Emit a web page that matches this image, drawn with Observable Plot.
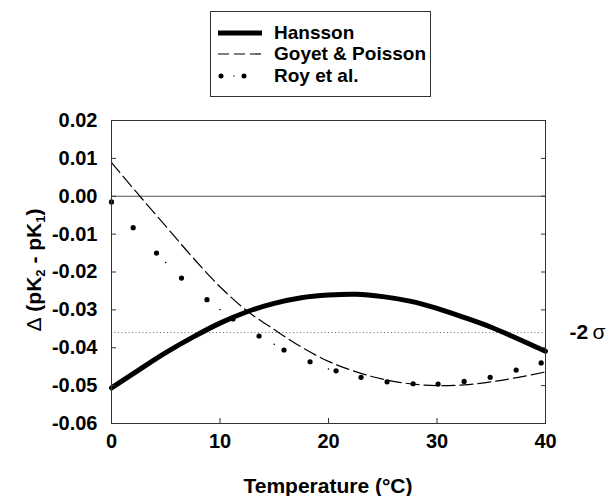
<!DOCTYPE html>
<html>
<head>
<meta charset="utf-8">
<script src="https://cdn.jsdelivr.net/npm/d3@7"></script>
<script src="https://cdn.jsdelivr.net/npm/@observablehq/plot@0.6"></script>
<style>
  html, body { margin: 0; padding: 0; background: #fff; }
  body { width: 610px; height: 496px; position: relative; overflow: hidden;
         font-family: "Liberation Sans", Arial, Helvetica, sans-serif; }
  #chart { position: absolute; left: 0; top: 0; }
  .legend { position: absolute; left: 210px; top: 11px; width: 221px; height: 86px;
            border: 1px solid #333; box-sizing: border-box; }
  .legend .row { position: absolute; left: 0; height: 22px; display: flex; align-items: center; }
  .legend .row svg { margin-left: 6px; }
  .legend .row span { margin-left: 11px; font-weight: bold; font-size: 19px; color: #000; }
  .ytitle { position: absolute; left: 35px; top: 270px; transform: translate(-50%, -50%) rotate(-90deg);
            white-space: nowrap; font-weight: bold; font-size: 21px; line-height: 1; }
  .ytitle sub { font-size: 13px; vertical-align: -4px; }
  .ytitle .d { font-weight: normal; }
  .xtitle { position: absolute; left: 328px; top: 485px; transform: translate(-50%, -50%);
            white-space: nowrap; font-weight: bold; font-size: 21px; line-height: 1; }
</style>
</head>
<body>
<div id="chart"></div>
<div class="legend">
  <div class="row" style="top:10px"><svg width="46" height="10"><line x1="1" x2="45" y1="5" y2="5" stroke="#000" stroke-width="5"/></svg><span>Hansson</span></div>
  <div class="row" style="top:31px"><svg width="46" height="10"><line x1="1" x2="45" y1="5" y2="5" stroke="#000" stroke-width="1.2" stroke-dasharray="11,5"/></svg><span>Goyet &amp; Poisson</span></div>
  <div class="row" style="top:53px"><svg width="46" height="10"><circle cx="4" cy="5" r="2.5" fill="#000"/><circle cx="27" cy="5" r="2.5" fill="#000"/><circle cx="17" cy="5" r="0.7" fill="#000"/></svg><span>Roy et al.</span></div>
</div>
<div class="ytitle"><span class="d">Δ</span> (pK<sub>2</sub> - pK<sub>1</sub>)</div>
<div class="xtitle">Temperature (°C)</div>
<script>
// Temperature grid for the fitted curves (°C)
const curveT = [0, 2.5, 5, 7.5, 10, 12.5, 15, 17.5, 20, 22.5, 25, 27.5, 30, 32.5, 35, 37.5, 40];
// Hansson: Δ(pK2 - pK1)
const hansson = [-0.0506, -0.0459, -0.0413, -0.0372, -0.0335, -0.0305, -0.0283, -0.0268, -0.0261, -0.0259, -0.0265, -0.0277, -0.0296, -0.0320, -0.0346, -0.0377, -0.0409];
// Goyet & Poisson
const goyet = [0.0089, 0.0004, -0.0079, -0.0162, -0.0239, -0.0303, -0.0352, -0.0398, -0.0436, -0.0463, -0.0483, -0.0495, -0.0500, -0.0498, -0.0490, -0.0478, -0.0464];
// Roy et al. (points)
const royT = [0, 2.0, 4.15, 6.45, 8.8, 11.2, 13.6, 15.9, 18.3, 20.7, 23.0, 25.4, 27.8, 30.1, 32.5, 34.9, 37.3, 39.6];
const roy = [-0.0015, -0.0083, -0.0150, -0.0216, -0.0273, -0.0324, -0.0369, -0.0406, -0.0437, -0.0461, -0.0478, -0.0490, -0.0495, -0.0496, -0.0489, -0.0478, -0.0459, -0.0440];
// Roy et al. faint connecting dots
const royFaintT = [5, 10, 15, 20];
const royFaint = [-0.0175, -0.0299, -0.0391, -0.0456];
// reference levels
const zeroLevel = [0];
const sigmaLevel = [-0.036];
const sigmaLabel = ["-2", "σ"];
// ticks
const xTicks = [0, 10, 20, 30, 40];
const yTicks = [0.02, 0.01, 0.00, -0.01, -0.02, -0.03, -0.04, -0.05, -0.06];

const hData = curveT.map((t, i) => ({t, v: hansson[i]}));
const gData = curveT.map((t, i) => ({t, v: goyet[i]}));
const rData = royT.map((t, i) => ({t, v: roy[i]}));
const fData = royFaintT.map((t, i) => ({t, v: royFaint[i]}));

const chart = Plot.plot({
  width: 610,
  height: 496,
  marginLeft: 111,
  marginRight: 65,
  marginTop: 120,
  marginBottom: 73,
  style: {fontFamily: '"Liberation Sans", Arial, sans-serif', background: "#fff", color: "#000", overflow: "visible"},
  x: {domain: [0, 40], label: null},
  y: {domain: [-0.06, 0.02], label: null},
  marks: [
    Plot.ruleY(zeroLevel, {stroke: "#555", strokeWidth: 1.2}),
    Plot.ruleY(sigmaLevel, {stroke: "#666", strokeWidth: 1, strokeDasharray: "1,2.5"}),
    Plot.line(gData, {x: "t", y: "v", curve: "catmull-rom", stroke: "#000", strokeWidth: 1.2, strokeDasharray: "13,5"}),
    Plot.dot(fData, {x: "t", y: "v", r: 0.8, fill: "#000", stroke: null}),
    Plot.dot(rData, {x: "t", y: "v", r: 2.6, fill: "#000", stroke: null}),
    Plot.line(hData, {x: "t", y: "v", curve: "catmull-rom", stroke: "#000", strokeWidth: 5}),
    Plot.frame({stroke: "#333", strokeWidth: 1}),
    Plot.axisY({anchor: "left", ticks: yTicks, tickSize: -5, tickPadding: 19, tickFormat: d => d3.format(".2f")(d).replace("−", "-"),
      fontSize: 20, fontWeight: "bold", stroke: "#333", label: null}),
    Plot.axisY({anchor: "right", ticks: yTicks, tickSize: -5, tickFormat: () => "", stroke: "#333", label: null}),
    Plot.axisX({anchor: "bottom", ticks: xTicks, tickSize: -5, tickPadding: 15, tickFormat: d => String(d),
      fontSize: 20, fontWeight: "bold", stroke: "#333", label: null}),
    Plot.text([sigmaLabel[0]], {x: () => 40, y: () => sigmaLevel[0], text: d => d, dx: 24, textAnchor: "start",
      fontSize: 21, fontWeight: "bold", fill: "#000"}),
    Plot.text([sigmaLabel[1]], {x: () => 40, y: () => sigmaLevel[0], text: d => d, dx: 47, textAnchor: "start",
      fontSize: 21, fontWeight: "normal", fill: "#000"})
  ]
});
document.getElementById("chart").appendChild(chart);
</script>
</body>
</html>
